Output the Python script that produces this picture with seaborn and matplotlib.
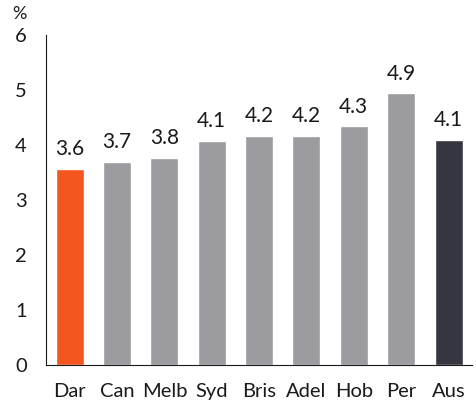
import matplotlib
matplotlib.use("Agg")
import matplotlib.pyplot as plt
import seaborn as sns
import pandas as pd

cities = ["Dar", "Can", "Melb", "Syd", "Bris", "Adel", "Hob", "Per", "Aus"]
values = [3.56, 3.70, 3.76, 4.07, 4.16, 4.16, 4.34, 4.94, 4.09]
colors = ["#f4561f", "#9b9ba0", "#9b9ba0", "#9b9ba0", "#9b9ba0",
          "#9b9ba0", "#9b9ba0", "#9b9ba0", "#363640"]
yticks = [0, 1, 2, 3, 4, 5, 6]

df = pd.DataFrame({"city": cities, "value": values})

sns.set_style("white")
plt.rcParams['font.family'] = ['Lato', 'DejaVu Sans']

fig = plt.figure(figsize=(4.77, 4.01), dpi=100)
ax = fig.add_axes([0.0964, 0.0898, 0.8936, 0.8229])

sns.barplot(data=df, x="city", y="value", hue="city", palette=colors,
            legend=False, width=0.59, saturation=1, ax=ax)

for c in ax.containers:
    ax.bar_label(c, fmt="%.1f", padding=7, fontsize=15, color="#1a1a1a")

ax.set_xlim(-0.5, 8.5)
ax.set_ylim(0, 6)
ax.set_yticks(yticks)
ax.set_xlabel("")
ax.set_ylabel("")
ax.tick_params(axis="both", length=0, labelsize=14.5, colors="#1a1a1a")
ax.tick_params(axis="x", pad=13)
ax.tick_params(axis="y", pad=18)
for lab in ax.get_yticklabels():
    lab.set_horizontalalignment("center")
sns.despine(ax=ax)
ax.spines["left"].set_color("#1a1a1a")
ax.spines["bottom"].set_color("#1a1a1a")
fig.text(0.025, 0.965, "%", fontsize=13, color="#1a1a1a", va="center")

fig.savefig("out.png", dpi=100)
